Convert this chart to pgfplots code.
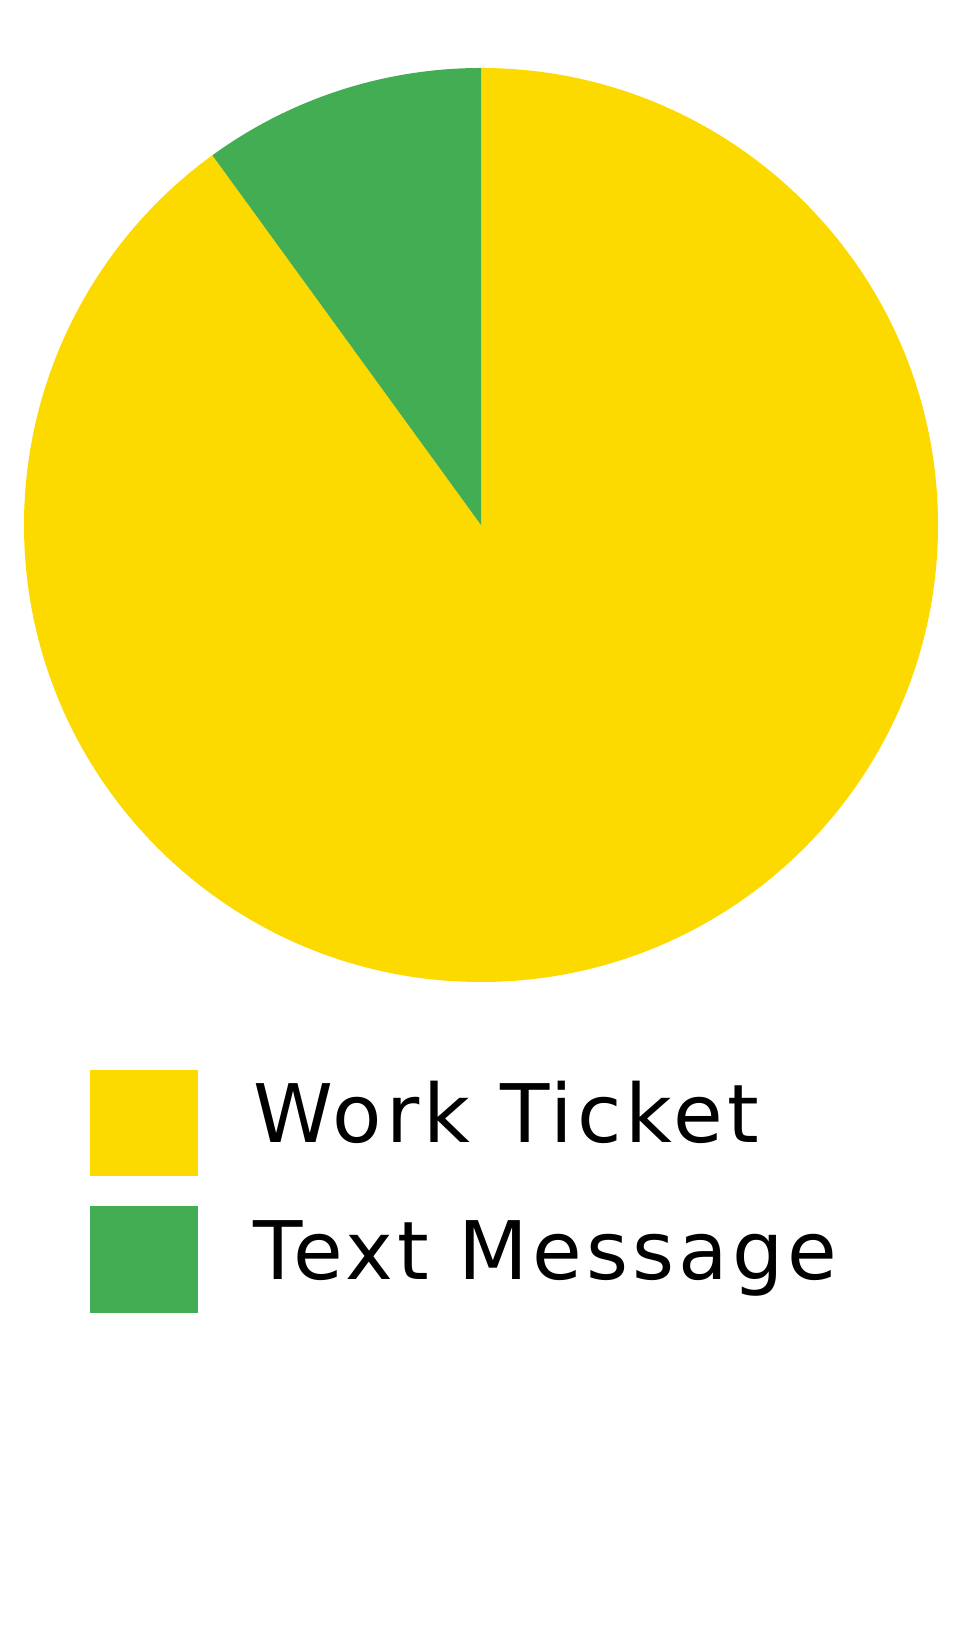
\documentclass[border=0pt]{standalone}
\usepackage{pgfplots}
\pgfplotsset{compat=1.18}
\usepackage{fontspec}
\setmainfont{DejaVu Sans}[LetterSpace=5]

\definecolor{pieyellow}{HTML}{FCDA00}
\definecolor{piegreen}{HTML}{42AD52}

% shares (percent): Work Ticket 90, Text Message 10
% slices start at 12 o'clock and run clockwise; 1 unit = 0.25pt
\begin{document}
\begin{tikzpicture}
\begin{axis}[
    scale only axis,
    width=240.5pt, height=408.5pt,
    xmin=-481, xmax=481,
    ymin=-1109, ymax=525,
    hide axis,
    clip=false,
    legend cell align=left,
    legend image code/.code={
        \fill[#1] (0pt,-13.8pt) rectangle (26.5pt,12.45pt);
    },
    legend style={
        at={(axis cs:-391,-543)}, anchor=north west,
        draw=none, fill=none, inner sep=0pt, outer sep=0pt,
        row sep=7pt, column sep=14pt,
        nodes={inner sep=0pt, outer sep=0pt, text height=18.75pt, text depth=7.5pt},
        font=\fontsize{20.2pt}{24pt}\selectfont,
    },
]
\useasboundingbox (rel axis cs:0,0) rectangle (rel axis cs:1,1);

% Work Ticket: 90% -> 324 degrees, from 90 down to -234
\addplot[fill=pieyellow, draw=none, forget plot] coordinates {(0,0) (0,457)}
    arc[start angle=90, end angle=-234, radius=114.25pt] -- cycle;
% Text Message: 10% -> 36 degrees, from 126 down to 90
\addplot[fill=piegreen, draw=none, forget plot] coordinates {(0,0) (-268.6,369.7)}
    arc[start angle=126, end angle=90, radius=114.25pt] -- cycle;

\addlegendimage{pieyellow}
\addlegendentry{Work Ticket}
\addlegendimage{piegreen}
\addlegendentry{Text Message}
\end{axis}
\end{tikzpicture}
\end{document}
